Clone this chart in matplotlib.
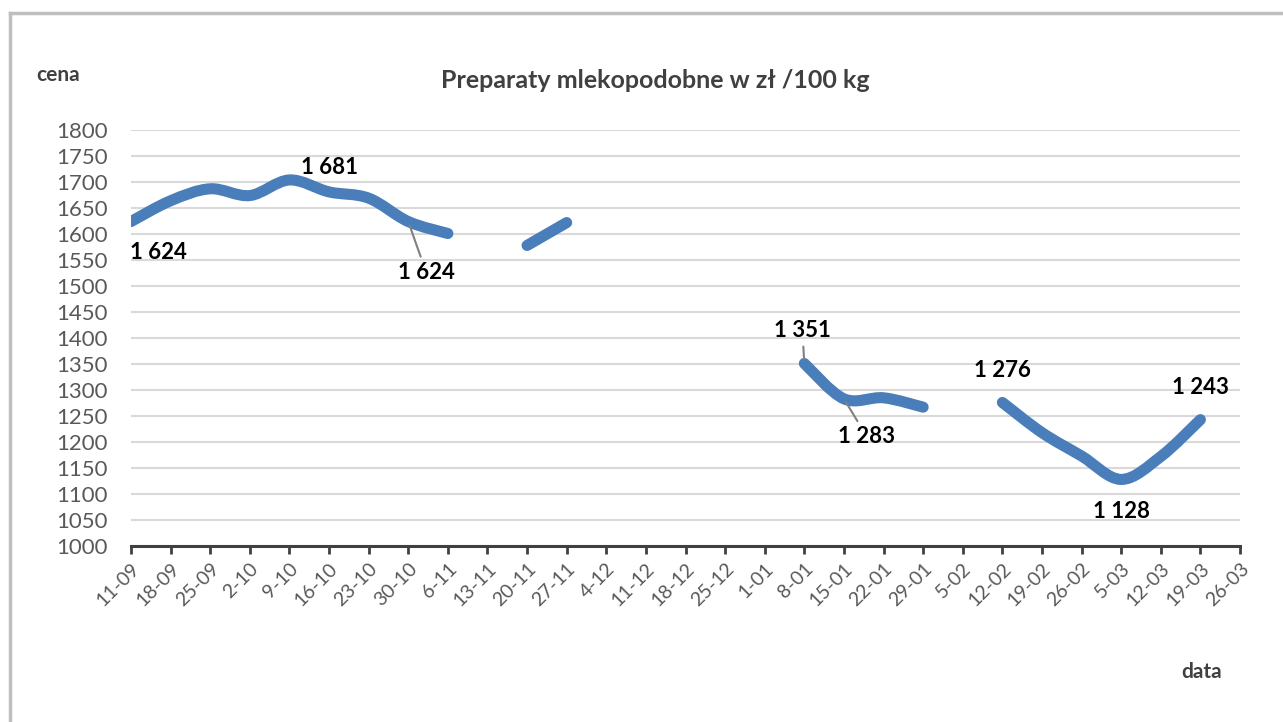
import numpy as np
import matplotlib.pyplot as plt
from matplotlib.path import Path
from matplotlib.patches import PathPatch
from matplotlib.lines import Line2D

plt.rcParams['font.family'] = ['Lato', 'DejaVu Sans']

# Weekly dates (day-month)
dates = ['11-09', '18-09', '25-09', '2-10', '9-10', '16-10', '23-10', '30-10', '6-11',
         '13-11', '20-11', '27-11', '4-12', '11-12', '18-12', '25-12', '1-01', '8-01',
         '15-01', '22-01', '29-01', '5-02', '12-02', '19-02', '26-02', '5-03', '12-03',
         '19-03', '26-03']

# Price in zl / 100 kg (None = no quotation)
prices = [1624, 1664, 1687, 1674, 1704, 1681, 1669, 1624, 1601,
          None, 1578, 1622, None, None, None, None, None, 1351,
          1283, 1285, 1267, None, 1276, 1218, 1173, 1128, 1172,
          1243, None]

# Points with data labels
label_idx = [0, 5, 7, 17, 18, 22, 25, 27]
# label offsets in pixels, and whether a leader line is drawn
label_offsets = [(27, -31), (0, 24), (18, -51), (-2, 33), (23, -38), (0, 32), (0, -32), (0, 32)]
label_leader = [False, False, True, True, True, False, False, False]

blue = '#4a7ebb'


def smooth_segments(xs, ys):
    """Split series at gaps, return Bezier paths (Excel-like smoothed line)."""
    segs, cur = [], []
    for x, y in zip(xs, ys):
        if y is None:
            if cur:
                segs.append(cur)
            cur = []
        else:
            cur.append((x, y))
    if cur:
        segs.append(cur)

    paths = []
    for seg in segs:
        p = np.array(seg, dtype=float)
        if len(p) < 2:
            continue
        verts = [p[0]]
        codes = [Path.MOVETO]
        n = len(p)
        for i in range(n - 1):
            p0 = p[i - 1] if i > 0 else p[i]
            p1, p2 = p[i], p[i + 1]
            p3 = p[i + 2] if i + 2 < n else p[i + 1]
            c1 = p1 + (p2 - p0) / 6.0
            c2 = p2 - (p3 - p1) / 6.0
            verts += [c1, c2, p2]
            codes += [Path.CURVE4] * 3
        paths.append(Path(verts, codes))
    return paths


fig = plt.figure(figsize=(12.83, 7.22), dpi=100)
ax = fig.add_axes([0.1021, 0.2438, 0.8644, 0.5761])

x = np.arange(len(dates))
for path in smooth_segments(x, prices):
    ax.add_patch(PathPatch(path, fill=False, edgecolor=blue, linewidth=8,
                           capstyle='round', joinstyle='round', zorder=3))

ax.set_xlim(0, len(dates) - 1)
ax.set_ylim(1000, 1800)
ax.set_yticks(np.arange(1000, 1801, 50))
ax.set_xticks(x)
ax.set_xticklabels(dates, rotation=45, ha='right', va='top', rotation_mode='anchor')

ax.grid(axis='y', color='#d9d9d9', linewidth=1.5, zorder=0)
ax.set_axisbelow(True)
for side in ['top', 'right', 'left']:
    ax.spines[side].set_visible(False)
ax.spines['bottom'].set_color('#404040')
ax.spines['bottom'].set_linewidth(2.2)
ax.tick_params(axis='x', length=6, width=2, color='#404040', labelsize=14,
               labelcolor='#595959', pad=4)
ax.tick_params(axis='y', length=0, labelsize=16, labelcolor='#595959', pad=17)

# Data labels
for i, (dx, dy), lead in zip(label_idx, label_offsets, label_leader):
    val = prices[i]
    txt = f"{val // 1000} {val % 1000:03d}"
    arrow = dict(arrowstyle='-', color='#808080', lw=1.5, shrinkA=2, shrinkB=3) if lead else None
    ax.annotate(txt, xy=(i, val), xytext=(dx, dy), textcoords='offset pixels',
                ha='center', va='center', fontsize=16, fontweight='bold',
                color='black', arrowprops=arrow, zorder=4)

fig.text(655 / 1283, 1 - 80 / 722, 'Preparaty mlekopodobne w zł /100 kg',
         ha='center', va='center', fontsize=18, fontweight='bold', color='#404040')
fig.text(58 / 1283, 1 - 75 / 722, 'cena', ha='center', va='center',
         fontsize=15, fontweight='bold', color='#404040')
fig.text(1202 / 1283, 1 - 672 / 722, 'data', ha='center', va='center',
         fontsize=15, fontweight='bold', color='#404040')

# chart frame
fig.add_artist(Line2D([10 / 1283, 10 / 1283], [0, 1 - 13 / 722], color='#bfbfbf', lw=2.5))
fig.add_artist(Line2D([10 / 1283, 1], [1 - 13 / 722, 1 - 13 / 722], color='#bfbfbf', lw=2.5))

fig.savefig('out.png', dpi=100)
